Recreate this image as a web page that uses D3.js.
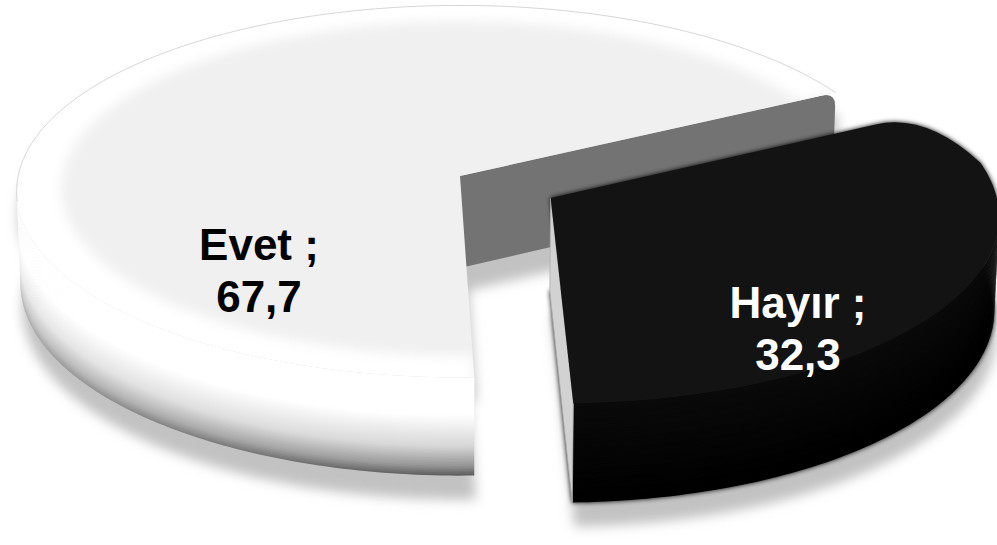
<!DOCTYPE html>
<html><head><meta charset="utf-8">
<script src="https://cdn.jsdelivr.net/npm/d3@7"></script>
<style>html,body{margin:0;padding:0;background:#fff;} svg{display:block;}</style>
</head><body>
<svg id="chart" width="997" height="545"></svg>
<script>
// ---- data ----
const categories = ["Evet", "Hayır"];
const values = [67.7, 32.3];
const valueLabels = ["67,7", "32,3"];
const explodeAmount = [0, 0.235];

// ---- layout / style ----
const view = {cx: 460, cy: 176, f: 4860, dist: 11, elev: Math.asin(0.418), thick: 0.2313, startDeg: 178.3};
const topColors = ["#f0f0f0", "#131313"];
const cutColors = ["#737373", "#d2d2d2"];
const labelColors = ["#000000", "#ffffff"];
const labelPos = [{x: 259, y: 260}, {x: 798, y: 318}];
const lineGap = 52;
const cornerRound = [{px: 14, deg: 3}, {px: 52, deg: 17}];

const sE = Math.sin(view.elev), cE = Math.cos(view.elev);
function project(X, Y, Z) {
  const depth = view.dist - (Z * cE + Y * sE);
  const v = Y * cE - Z * sE;
  return [view.cx + view.f * X / depth, view.cy - view.f * v / depth];
}
function area(pts) {
  let s = 0;
  for (let i = 0; i < pts.length; i++) {
    const a = pts[i], b = pts[(i + 1) % pts.length];
    s += a[0] * b[1] - b[0] * a[1];
  }
  return s / 2;
}
function toward(P, Q, dpx) {
  const dx = Q[0] - P[0], dy = Q[1] - P[1], L = Math.hypot(dx, dy);
  return [P[0] + dx * dpx / L, P[1] + dy * dpx / L];
}

const svg = d3.select("#chart");
const defs = svg.append("defs");
function blurFilter(id, sd) {
  defs.append("filter").attr("id", id).attr("x", "-20%").attr("y", "-20%").attr("width", "140%").attr("height", "140%")
    .append("feGaussianBlur").attr("stdDeviation", sd);
}
blurFilter("shBlur", 6);
blurFilter("ringBlur", 6);
blurFilter("haloBlur", 2.5);

const a0 = view.startDeg * Math.PI / 180;
const pie = d3.pie().sort(null).value(d => d.value).startAngle(a0).endAngle(a0 + 2 * Math.PI);
const data = categories.map((c, i) => ({name: c, value: values[i], label: valueLabels[i], explode: explodeAmount[i]}));
const arcs = pie(data);
const line = d3.line();
const Hh = view.thick;
const DEG = Math.PI / 180;

const geo = arcs.map((a, idx) => {
  const mid = (a.startAngle + a.endAngle) / 2;
  const e = a.data.explode;
  const ox = e * Math.sin(mid), oz = -e * Math.cos(mid);
  const pt = (th, r, y) => project(ox + r * Math.sin(th), y, oz - r * Math.cos(th));
  const n = Math.ceil((a.endAngle - a.startAngle) / DEG);
  const thetas = d3.range(n + 1).map(k => a.startAngle + (a.endAngle - a.startAngle) * k / n);
  return {a, idx, pt, thetas};
});
const rimPts = (g, r, y, ths) => (ths || g.thetas).map(t => g.pt(t, r, y));

function topOutline(g, y) {
  const V = g.pt(0, 0, y);
  if (g.idx === 1) {
    const cr = cornerRound[1];
    const P = g.pt(g.a.startAngle, 1, y);
    const A = toward(P, V, cr.px);
    const tb = g.a.startAngle + cr.deg * DEG;
    const B = g.pt(tb, 1, y);
    const p = d3.path();
    p.moveTo(V[0], V[1]);
    p.lineTo(A[0], A[1]);
    p.quadraticCurveTo(P[0], P[1], B[0], B[1]);
    g.thetas.filter(t => t > tb).forEach(t => { const q = g.pt(t, 1, y); p.lineTo(q[0], q[1]); });
    p.closePath();
    return p.toString();
  }
  return line([V, ...rimPts(g, 1, y)]) + "Z";
}

// ---- shadows ----
const shG = svg.append("g").attr("transform", "translate(2,24)").attr("filter", "url(#shBlur)").attr("fill", "#c2c2c2");
geo.forEach(g => {
  shG.append("path").attr("d", topOutline(g, 0));
  shG.append("path").attr("d", topOutline(g, -Hh));
  shG.append("path").attr("d", line([...rimPts(g, 1, 0, g.thetas.slice(20)), ...rimPts(g, 1, -Hh, g.thetas.slice(20)).reverse()]) + "Z");
});

// ---- wall shading ----
const darkScale = d3.scaleLinear().domain([0, 0.38, 0.7, 0.9, 1]).range([0, 0, 0.25, 0.65, 1]).clamp(true);
const frontScale = d3.scaleLinear().domain([180, 270]).range([1, 0]).clamp(true);
const hayirWall = d3.scaleLinear().domain([0, 1]).range([10, 0]);
const nBands = 60;

geo.forEach((g, idx) => {
  const G = svg.append("g");
  if (idx === 1) {
    const hg = G.append("g").attr("filter", "url(#haloBlur)").attr("fill", "#000");
    hg.append("path").attr("d", topOutline(g, 0));
    hg.append("path").attr("d", topOutline(g, -Hh));
  }
  const vis = [];
  for (let k = 0; k < g.thetas.length - 1; k++) {
    const t1 = g.thetas[k], t2 = g.thetas[k + 1];
    const test = [g.pt(t1, 1, 0), g.pt(t2, 1, 0), g.pt(t2, 1, -Hh), g.pt(t1, 1, -Hh)];
    if (area(test) < 0) { if (!vis.length || vis[vis.length - 1] !== t1) vis.push(t1); vis.push(t2); }
  }
  if (vis.length > 1) {
    const wallG = G.append("g");
    const xs = vis.map(t => g.pt(t, 1, 0)[0]);
    const xMin = d3.min(xs) - 2, xMax = d3.max(xs) + 2;
    for (let b = 0; b < nBands; b++) {
      const y1 = -Hh * b / nBands, y2 = -Hh * Math.min(nBands, b + 1.6) / nBands;
      const tm = (b + 0.5) / nBands;
      let fill;
      if (idx === 0) {
        const gid = "wg" + b;
        const lg = defs.append("linearGradient").attr("id", gid).attr("gradientUnits", "userSpaceOnUse")
          .attr("x1", xMin).attr("x2", xMax).attr("y1", 0).attr("y2", 0);
        d3.range(0, 1.0001, 0.1).forEach(o => {
          const x = xMin + (xMax - xMin) * o;
          let best = vis[0], bd = 1e9;
          vis.forEach(t => { const dd = Math.abs(g.pt(t, 1, 0)[0] - x); if (dd < bd) { bd = dd; best = t; } });
          const kf = frontScale((best / DEG) % 360);
          const gv = Math.round(255 - darkScale(tm) * (70 + 95 * kf));
          lg.append("stop").attr("offset", o).attr("stop-color", d3.rgb(gv, gv, gv).formatHex());
        });
        fill = `url(#${gid})`;
      } else {
        const gv = Math.round(hayirWall(tm));
        fill = d3.rgb(gv, gv, gv).formatHex();
      }
      const strip = [...rimPts(g, 1, y1, vis), ...rimPts(g, 1, y2, vis).reverse()];
      wallG.append("path").attr("d", line(strip) + "Z").attr("fill", fill);
    }
  }
  // cut faces
  [[g.a.endAngle, false], [g.a.startAngle, true]].forEach(([th, rev]) => {
    let q = [g.pt(0, 0, 0), g.pt(th, 1, 0), g.pt(th, 1, -Hh), g.pt(0, 0, -Hh)];
    if (rev) q = [q[0], q[3], q[2], q[1]];
    if (area(q) > 0) {
      if (idx === 0) {
        const cr = cornerRound[0];
        const V = q[0], P = q[1], Pb = q[2], Vb = q[3];
        const A = toward(P, V, cr.px), B = toward(P, Pb, cr.px);
        const p = d3.path();
        p.moveTo(V[0], V[1]); p.lineTo(A[0], A[1]);
        p.quadraticCurveTo(P[0], P[1], B[0], B[1]);
        p.lineTo(Pb[0], Pb[1]); p.lineTo(Vb[0], Vb[1]); p.closePath();
        G.append("path").attr("d", p.toString()).attr("fill", cutColors[idx]);
      } else {
        G.append("path").attr("d", line(q) + "Z").attr("fill", cutColors[idx])
          .attr("stroke", "#b0b0b0").attr("stroke-width", 0.8);
      }
    }
  });
  // top face
  const topD = topOutline(g, 0);
  G.append("path").attr("d", topD).attr("fill", topColors[idx]);
  if (idx === 0) {
    const cid = "clipTop" + idx;
    defs.append("clipPath").attr("id", cid).append("path").attr("d", topD);
    const ring = [...rimPts(g, 1.06, 0), ...rimPts(g, 0.9, 0).reverse()];
    G.append("g").attr("clip-path", `url(#${cid})`)
      .append("path").attr("d", line(ring) + "Z").attr("fill", "#ffffff").attr("filter", "url(#ringBlur)");
    const backTh = g.thetas.filter(t => (t / DEG) >= 262);
    G.append("path").attr("d", line(rimPts(g, 1, 0, backTh))).attr("fill", "none")
      .attr("stroke", "#cdcdcd").attr("stroke-width", 0.8);
  }
});

// ---- labels ----
arcs.forEach((a, i) => {
  const t = svg.append("text").attr("text-anchor", "middle")
    .attr("font-family", "'Liberation Sans', Arial, sans-serif").attr("font-weight", "bold")
    .attr("font-size", 44).attr("fill", labelColors[i]);
  t.append("tspan").attr("x", labelPos[i].x).attr("y", labelPos[i].y).text(a.data.name + " ;");
  t.append("tspan").attr("x", labelPos[i].x).attr("y", labelPos[i].y + lineGap).text(a.data.label);
});
</script>
</body></html>
